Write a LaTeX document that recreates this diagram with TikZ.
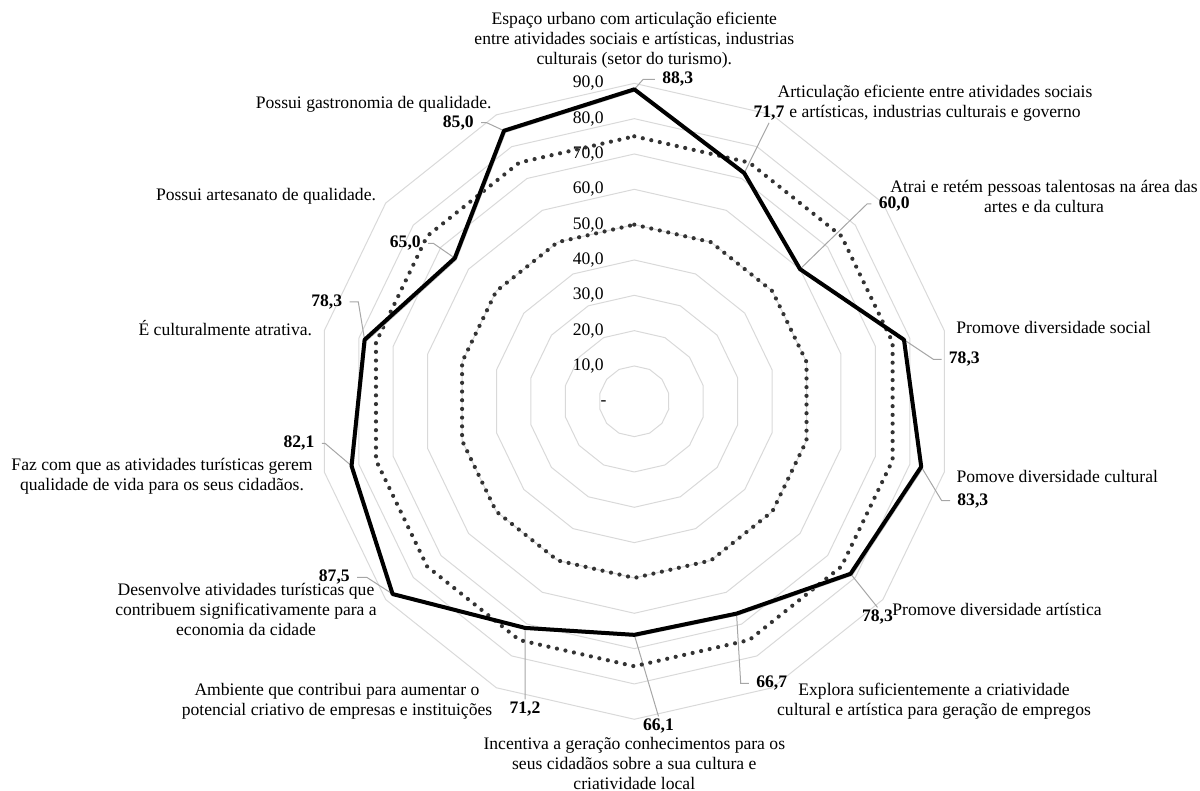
\documentclass[tikz,border=0pt]{standalone}
\usepackage{fontspec}
\setmainfont{Liberation Serif}
\begin{document}
\begin{tikzpicture}[x=0.5pt,y=-0.5pt,
  ring/.style={draw=black!15, line width=0.5pt},
  lead/.style={draw=black!35, line width=0.5pt},
  drop/.style={preaction={draw=black!25, transform canvas={shift={(0.8pt,-0.8pt)}}}},
  meta/.style={draw=black!80, line width=2.1pt, line cap=round, dash pattern=on 0pt off 4.35pt},
  real/.style={drop, draw=black, line width=2pt, line join=round},
  cat/.style={font=\fontsize{8.8}{10}\selectfont, align=center, inner sep=0pt},
  val/.style={font=\fontsize{8.8}{10}\selectfont\bfseries, inner xsep=3.5pt, inner ysep=1pt},
  tick/.style={font=\fontsize{8.8}{10}\selectfont, anchor=east, inner sep=0pt}]
\useasboundingbox (0,0) rectangle (1200,791);
\foreach \r in {1,...,9}
  \draw[ring] plot[samples at={0,...,13}, variable=\k]
    ({634.3+35.33*\r*cos(90-\k*360/14)},{401.3-35.33*\r*sin(90-\k*360/14)}) -- cycle;
\node[tick] (t0) at (607,403) {-};
\foreach \r in {1,...,9}
  \node[tick] (t\r) at (604,{401.3-35.33*\r}) {\r0,0};
\foreach \v [count=\k from 0] in {88.3,71.7,60.0,78.3,83.3,78.3,66.7,66.1,71.2,87.5,82.1,78.3,65.0,85.0}
  \coordinate (v\k) at ({634.3+3.533*\v*cos(90-\k*360/14)},{401.3-3.533*\v*sin(90-\k*360/14)});

\node[cat] (a0) at (634.3,40.5) {Espaço urbano com articulação eficiente\\entre atividades sociais e artísticas, industrias\\culturais (setor do turismo).};
\node[cat] (a1) at (935,103.7) {Articulação eficiente entre atividades sociais\\e artísticas, industrias culturais e governo};
\node[cat] (a2) at (1044,196) {Atrai e retém pessoas talentosas na área das\\artes e da cultura};
\node[cat] (a3) at (1053.7,327.7) {Promove diversidade social};
\node[cat] (a4) at (1057.3,476) {Pomove diversidade cultural};
\node[cat] (a5) at (997,609.3) {Promove diversidade artística};
\node[cat] (a6) at (934,701) {Explora suficientemente a criatividade\\cultural e artística para geração de empregos};
\node[cat] (a7) at (634.3,763.2) {Incentiva a geração conhecimentos para os\\seus cidadãos sobre a sua cultura e\\criatividade local};
\node[cat] (a8) at (337,701) {Ambiente que contribui para aumentar o\\potencial criativo de empresas e instituições};
\node[cat] (a9) at (246,609) {Desenvolve atividades turísticas que\\contribuem significativamente para a\\economia da cidade};
\node[cat] (a10) at (162,476.7) {Faz com que as atividades turísticas gerem\\qualidade de vida para os seus cidadãos.};
\node[cat] (a11) at (225.3,328.3) {É culturalmente atrativa.};
\node[cat] (a12) at (266,196) {Possui artesanato de qualidade.};
\node[cat] (a13) at (373.7,104) {Possui gastronomia de qualidade.};

\node[val] (b0) at (677.7,79.5) {88,3};
\node[val] (b1) at (769,113.3) {71,7};
\node[val] (b2) at (894.2,204) {60,0};
\node[val] (b3) at (964.3,359.3) {78,3};
\node[val] (b4) at (972.8,500.7) {83,3};
\node[val] (b5) at (877.5,617) {78,3};
\node[val] (b6) at (771.7,683.3) {66,7};
\node[val] (b7) at (658.5,726) {66,1};
\node[val] (b8) at (525,709) {71,2};
\node[val] (b9) at (334.3,577.3) {87,5};
\node[val] (b10) at (299,443.3) {82,1};
\node[val] (b11) at (326.7,302) {78,3};
\node[val] (b12) at (405.3,243.3) {65,0};
\node[val] (b13) at (458.3,122.7) {85,0};

\coordinate (e0) at (643,79.5);
\coordinate (e2) at (867,204);
\coordinate (e3) at (933.3,359.3);
\coordinate (e4) at (941.7,500.7);
\coordinate (e6) at (740.7,683.3);
\coordinate (e9) at (366.7,577.3);
\coordinate (e10) at (325,443.3);
\coordinate (e11) at (358.3,302);
\coordinate (e12) at (433.3,243.3);
\coordinate (e13) at (486.7,122.7);
\foreach \k in {0,2,3,4,6}
  \draw[lead] (v\k) -- (e\k) -- (b\k.west);
\foreach \k in {9,...,13}
  \draw[lead] (v\k) -- (e\k) -- (b\k.east);
\draw[lead] (v1) -- (b1.south);
\draw[lead] (v5) -- (b5.north);
\draw[lead] (v7) -- (b7.north);
\draw[lead] (v8) -- (b8.north);

\foreach \r in {50,75}
  \draw[meta] plot[samples at={0,...,13}, variable=\k]
    ({634.3+3.533*\r*cos(90-\k*360/14)},{401.3-3.533*\r*sin(90-\k*360/14)}) -- cycle;
\draw[real] (v0) \foreach \k in {1,...,13} {-- (v\k)} -- cycle;
\end{tikzpicture}
\end{document}
